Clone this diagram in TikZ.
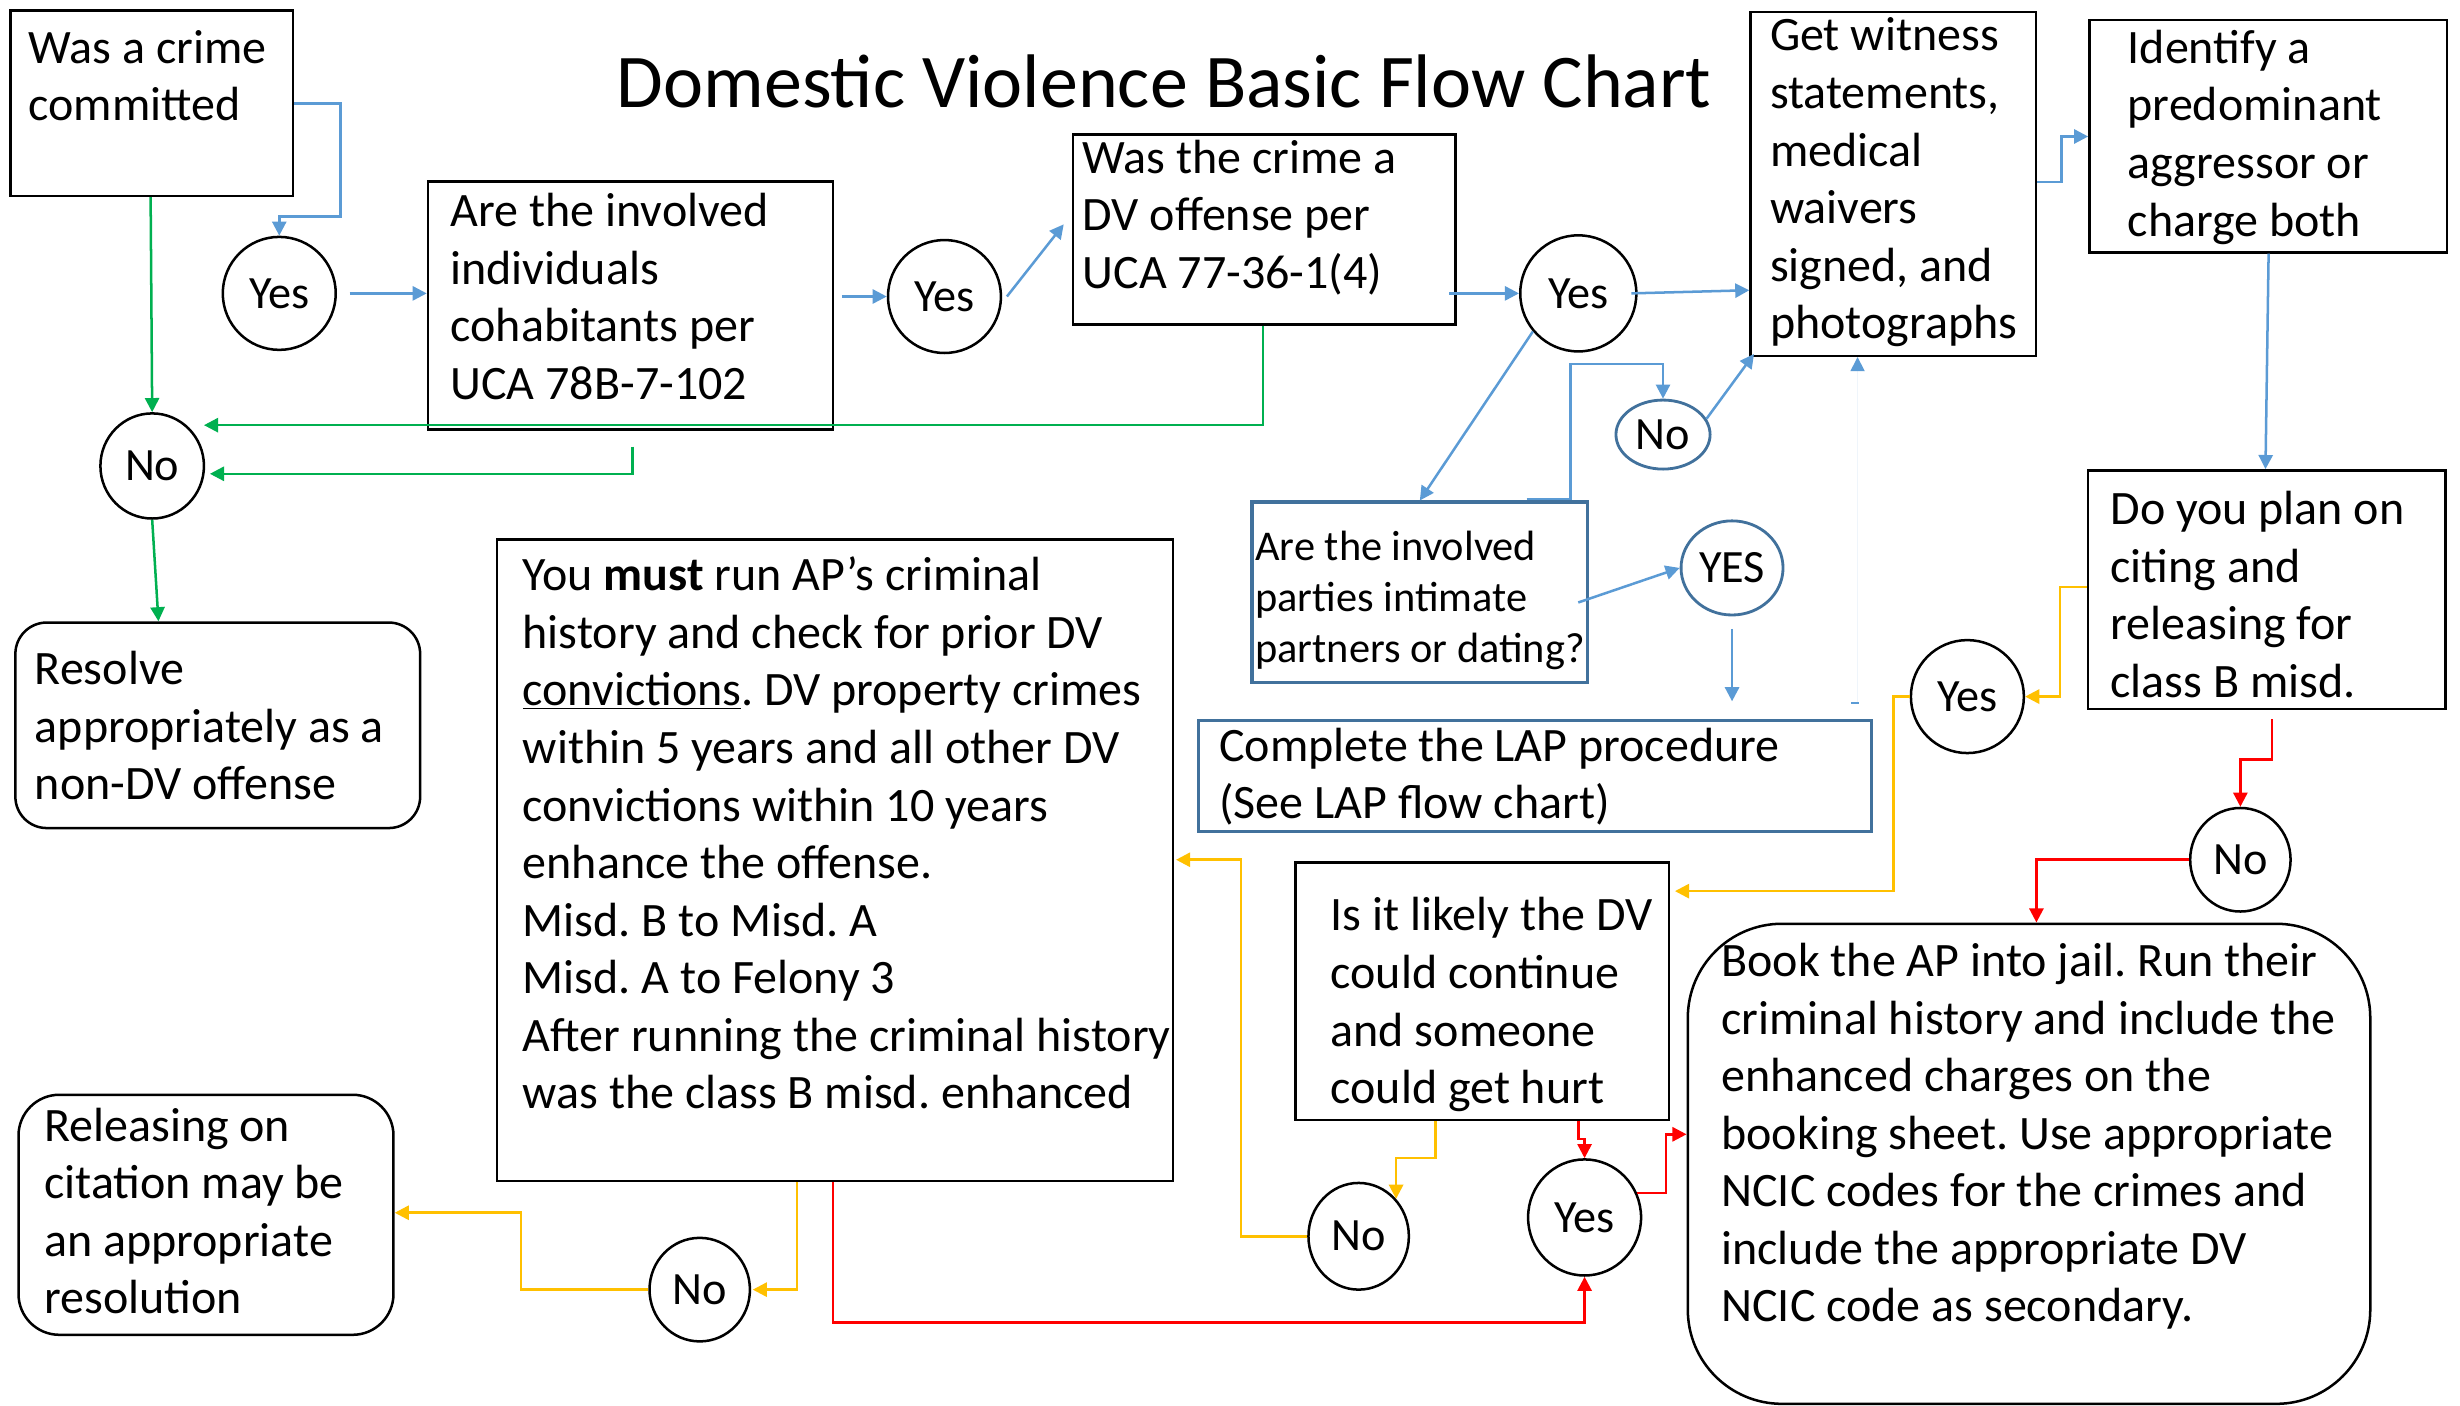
\documentclass[tikz,border=0pt]{standalone}
\usepackage{fontspec}
\setmainfont{Carlito}
\usetikzlibrary{arrows.meta,shapes.geometric,calc}
\definecolor{lblue}{HTML}{5B9BD5}
\definecolor{sblue}{HTML}{41719C}
\definecolor{cgreen}{HTML}{00B050}
\definecolor{corange}{HTML}{FFC000}
\definecolor{cred}{HTML}{FF0000}
\frenchspacing
\begin{document}
\begin{tikzpicture}[x=1pt,y=-1pt,
  box/.style={draw=black, line width=1.6pt, inner sep=0pt, anchor=north west, rectangle},
  bbox/.style={box, draw=sblue, line width=2pt},
  rbox/.style={box, rounded corners=#1},
  txt/.style={anchor=base west, inner sep=0pt, align=left, font=\fontsize{30.6}{36.7}\selectfont},
  stxt/.style={anchor=base west, inner sep=0pt, align=left, font=\fontsize{27}{32.5}\selectfont},
  circ/.style={draw=black, line width=1.6pt, ellipse, inner sep=0pt, font=\fontsize{29.5}{34}\selectfont},
  bcirc/.style={circ, draw=sblue, line width=1.8pt},
  tip/.style={-{Triangle[width=9pt,length=9pt]}},
  bl/.style={draw=lblue, line width=1.6pt, tip},
  gr/.style={draw=cgreen, line width=1.6pt, tip},
  orl/.style={draw=corange, line width=1.6pt, tip},
  rd/.style={draw=cred, line width=1.6pt, tip}
]
\fill[white] (0,0) rectangle (1568,896);
\useasboundingbox (0,0) rectangle (1568,896);

% title
\node[font=\fontsize{48.4}{58}\selectfont, inner sep=0pt] (title) at (742,52) {Domestic Violence Basic Flow Chart};

% boxes
\node[box, minimum width=180pt, minimum height=118pt] (b1) at (6,6) {};
\node[box, minimum width=258pt, minimum height=158pt] (b2) at (272,115) {};
\node[box, minimum width=244pt, minimum height=121pt] (b3) at (683,85) {};
\node[box, minimum width=182pt, minimum height=219pt] (b4) at (1115,7) {};
\node[box, minimum width=228pt, minimum height=148pt] (b5) at (1331,12) {};
\node[bbox, minimum width=214pt, minimum height=115pt] (b6) at (797,319) {};
\node[bbox, minimum width=429pt, minimum height=71pt] (b7) at (763,458) {};
\node[rbox=20pt, minimum width=258pt, minimum height=131pt] (b8) at (9,396) {};
\node[box, minimum width=431pt, minimum height=409pt] (b9) at (316,343) {};
\node[rbox=26pt, minimum width=239pt, minimum height=153pt] (b10) at (11,697) {};
\node[box, minimum width=238pt, minimum height=164pt] (b11) at (825,549) {};
\node[box, minimum width=228pt, minimum height=152pt] (b12) at (1330,299) {};
\node[rbox=60pt, minimum width=435pt, minimum height=306pt] (b13) at (1075,588) {};

% texts (anchored at the baseline of their last line)
\node[txt] (t1) at (18,77) {Was a crime\\committed};
\node[txt] (t2) at (287,254.5) {Are the involved\\individuals\\cohabitants per\\UCA 78B-7-102};
\node[txt] (t3) at (690,183.8) {Was the crime a\\DV offense per\\UCA 77-36-1(4)};
\node[txt] (t4) at (1128,216) {Get witness\\statements,\\medical\\waivers\\signed, and\\photographs};
\node[txt] (t5) at (1356,150.5) {Identify a\\predominant\\aggressor or\\charge both};
\node[stxt] (t6) at (800,422.5) {Are the involved\\parties intimate\\partners or dating?};
\node[txt] (t7) at (777,522) {Complete the LAP procedure\\(See LAP flow chart)};
\node[txt] (t8) at (22,509.8) {Resolve\\appropriately as a\\non-DV offense};
\node[txt] (t9) at (333,706.8) {You \textbf{must} run AP’s criminal\\history and check for prior DV\\\underline{convictions}. DV property crimes\\within 5 years and all other DV\\convictions within 10 years\\enhance the offense.\\Misd. B to Misd. A\\Misd. A to Felony 3\\After running the criminal history\\was the class B misd. enhanced};
\node[txt] (t10) at (28,837.5) {Releasing on\\citation may be\\an appropriate\\resolution};
\node[txt] (t11) at (848,703.5) {Is it likely the DV\\could continue\\and someone\\could get hurt};
\node[txt] (t12) at (1345,444.5) {Do you plan on\\citing and\\releasing for\\class B misd.};
\node[txt] (t13) at (1097,842.6) {Book the AP into jail. Run their\\criminal history and include the\\enhanced charges on the\\booking sheet. Use appropriate\\NCIC codes for the crimes and\\include the appropriate DV\\NCIC code as secondary.};

% circles
\node[circ, minimum width=72pt, minimum height=72pt] (c1) at (178,187) {Yes};
\node[circ, minimum width=72pt, minimum height=72pt] (c2) at (602,189) {Yes};
\node[circ, minimum width=74pt, minimum height=74pt] (c3) at (1006,187) {Yes};
\node[bcirc, minimum width=60pt, minimum height=44pt] (cno1) at (1060,277) {No};
\node[bcirc, minimum width=65pt, minimum height=60pt] (cyes) at (1104,362) {YES};
\node[circ, minimum width=66pt, minimum height=67pt] (cnol) at (97,297) {No};
\node[circ, minimum width=64pt, minimum height=66pt] (cnob) at (446,822) {No};
\node[circ, minimum width=64pt, minimum height=68pt] (cnom) at (866,788) {No};
\node[circ, minimum width=72pt, minimum height=74pt] (cyesm) at (1010,776) {Yes};
\node[circ, minimum width=72pt, minimum height=72pt] (cyesr) at (1254,444) {Yes};
\node[circ, minimum width=64pt, minimum height=66pt] (cnor) at (1428,548) {No};

% blue connectors
\draw[bl] (b1.east |- 0,66) -| (217,138) -| (c1.north);
\draw[bl] ([xshift=8pt]c1.east) -- (b2.west |- c1.east);
\draw[bl] ([xshift=5pt]b2.east |- c2.west) -- (c2.west);
\draw[bl] ([xshift=3pt]c2.east) -- ([xshift=-5pt]b3.west |- 0,143);
\draw[bl] ([xshift=-5pt]b3.east |- c3.west) -- (c3.west);
\draw[bl] ([xshift=-4pt]c3.east) -- (b4.west |- 0,185);
\draw[bl] (c3.-140) -- (b6.north -| 905,0);
\draw[bl] ([yshift=1pt]b6.north -| 973,0) -| (1001,232) -| (cno1.north);
\draw[bl] (cno1.20) -- ([xshift=3pt,yshift=2pt]b4.south west);
\draw[bl] ([xshift=-7pt]b6.east |- 0,384) -- (cyes.west);
\draw[bl] ([yshift=-8pt]cyes.south) -- ([yshift=11pt]b7.north -| cyes.south);
\draw[draw=lblue!10, line width=1pt, -{Triangle[width=9pt,length=9pt,color=lblue]}] ([yshift=10pt]b7.north -| 1184,0) -- (b4.south -| 1184,0);
\draw[lblue, line width=1pt] ([yshift=10pt]b7.north -| 1180,0) -- ([yshift=10pt]b7.north -| 1185,0);
\draw[bl] (b4.east |- 0,116) -| (1314,87) -- (b5.west |- 0,87);
\draw[bl] (b5.south -| 1446,0) -- (b12.north -| 1444,0);

% green connectors
\draw[gr] (b1.south -| 96,0) -- (cnol.north);
\draw[gr] (b3.south -| 805,0) |- (130,271);
\draw[gr] ([yshift=-10pt]b2.south -| 403,0) |- ([xshift=3pt]cnol.east |- 0,302);
\draw[gr] (cnol.south) -- (b8.north -| 101,0);

% orange connectors
\draw[orl] (b12.west |- 0,374) -| (1313,444) -- (cyesr.east);
\draw[orl] (cyesr.west) -| (1207,568) -- ([xshift=3pt]b11.east |- 0,568);
\draw[orl] (b11.south -| 915,0) |- (cnom.45 |- 0,738) -- (cnom.45);
\draw[orl] (cnom.west) -| (791,548) -- ([xshift=1pt]b9.east |- 0,548);
\draw[orl] (b9.south -| 508,0) |- ([xshift=1pt]cnob.east);
\draw[orl] (cnob.west) -| (332,773) -- (b10.east |- 0,773);

% red connectors
\draw[rd] ([yshift=-6pt]b12.south -| 1448,0) |- (1428,484) -- (cnor.north);
\draw[rd] (cnor.west) -| (b13.north -| 1298,0);
\draw[rd] (b11.south -| 1006,0) |- (1010,726) -- (cyesm.north);
\draw[rd] (cyesm.25) -| (1062,723) -- (b13.west |- 0,723);
\draw[rd] (b9.south -| 531,0) |- (cyesm.south |- 0,843) -- (cyesm.south);
\end{tikzpicture}
\end{document}
